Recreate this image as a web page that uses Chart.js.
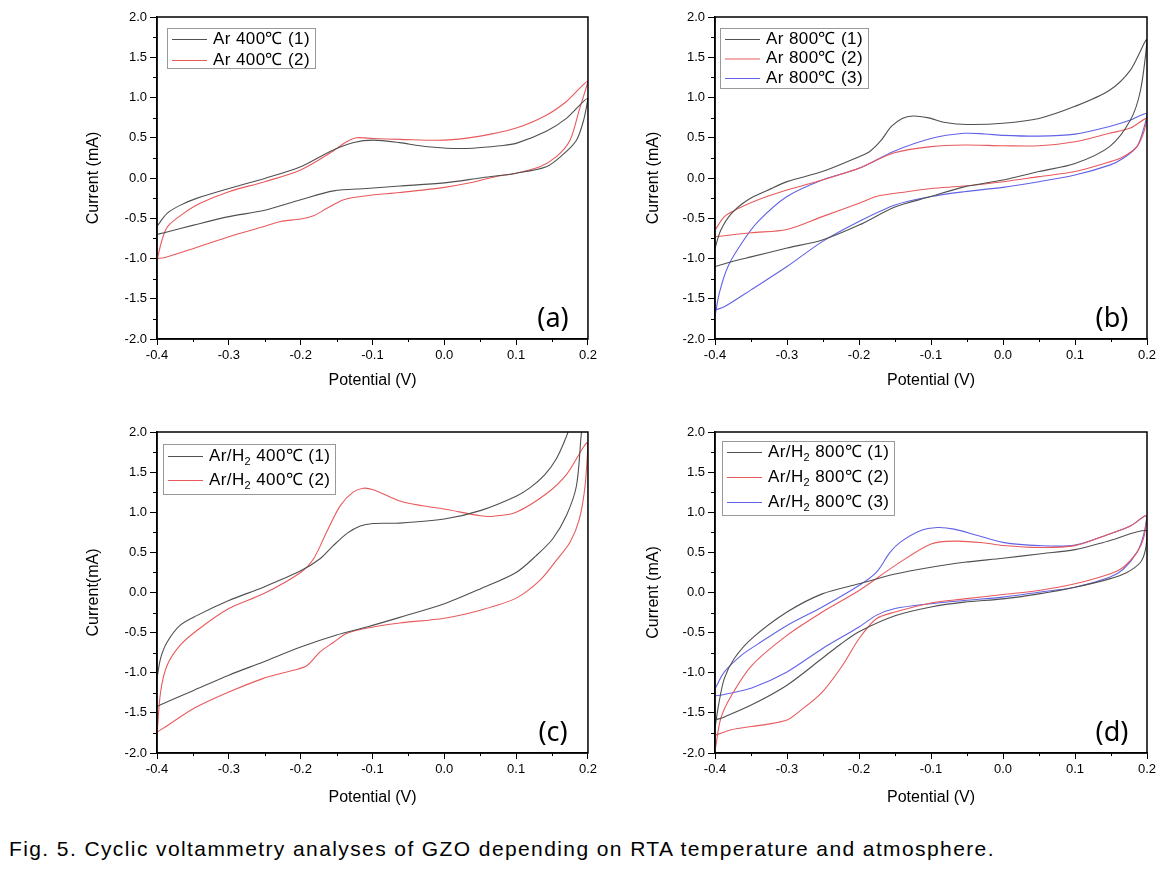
<!DOCTYPE html>
<html>
<head>
<meta charset="utf-8">
<script src="https://cdn.jsdelivr.net/npm/chart.js@4.4.1/dist/chart.umd.min.js"></script>
<style>
  body { margin: 0; background: #fff; width: 1174px; height: 874px; position: relative; overflow: hidden; font-family: "Liberation Sans", Arial, sans-serif; }
  .panel { position: absolute; }
  #caption { position: absolute; left: 9px; top: 837px; font-size: 21px; letter-spacing: 1.4px; color: #000; white-space: nowrap; }
</style>
</head>
<body>
<div class="panel" style="left:80px;top:0px"><canvas id="chartA" width="520" height="394"></canvas></div>
<div class="panel" style="left:640px;top:0px"><canvas id="chartB" width="520" height="394"></canvas></div>
<div class="panel" style="left:80px;top:415px"><canvas id="chartC" width="520" height="396"></canvas></div>
<div class="panel" style="left:640px;top:415px"><canvas id="chartD" width="520" height="396"></canvas></div>
<div id="caption">Fig. 5. Cyclic voltammetry analyses of GZO depending on RTA temperature and atmosphere.</div>
<script>
// tick values
const xMinor = [-0.35, -0.25, -0.15, -0.05, 0.05, 0.15];
const yMinor = [-1.75, -1.25, -0.75, -0.25, 0.25, 0.75, 1.25, 1.75];

// (a) Ar 400C
const labelsA = ["Ar 400℃ (1)", "Ar 400℃ (2)"];
const potA1 = [-0.4, -0.386, -0.368, -0.344, -0.3, -0.25, -0.2, -0.159, -0.126, -0.099, -0.062, -0.034, 0.003, 0.04, 0.077, 0.1, 0.142, 0.17, 0.2, 0.194, 0.184, 0.165, 0.142, 0.1, 0.05, 0.0, -0.062, -0.108, -0.154, -0.2, -0.25, -0.3, -0.349, -0.386, -0.4];
const curA1 = [-0.6, -0.44, -0.34, -0.25, -0.13, -0.005, 0.14, 0.33, 0.44, 0.47, 0.44, 0.40, 0.37, 0.37, 0.40, 0.43, 0.58, 0.74, 0.99, 0.72, 0.47, 0.29, 0.14, 0.06, 0.0, -0.06, -0.10, -0.13, -0.16, -0.27, -0.40, -0.48, -0.585, -0.67, -0.70];
const potA2 = [-0.4, -0.393, -0.385, -0.363, -0.34, -0.3, -0.25, -0.2, -0.159, -0.136, -0.122, -0.099, -0.062, 0.0, 0.05, 0.1, 0.142, 0.17, 0.2, 0.188, 0.175, 0.156, 0.133, 0.1, 0.068, 0.036, 0.0, -0.062, -0.108, -0.14, -0.164, -0.182, -0.2, -0.228, -0.25, -0.3, -0.349, -0.39, -0.4];
const curA2 = [-1.02, -0.77, -0.6, -0.44, -0.315, -0.17, -0.046, 0.1, 0.31, 0.45, 0.5, 0.49, 0.48, 0.47, 0.52, 0.62, 0.78, 0.95, 1.2, 0.85, 0.47, 0.265, 0.14, 0.06, 0.01, -0.06, -0.116, -0.18, -0.22, -0.27, -0.38, -0.47, -0.51, -0.54, -0.6, -0.73, -0.875, -0.99, -1.0];

// (b) Ar 800C
const labelsB = ["Ar 800℃ (1)", "Ar 800℃ (2)", "Ar 800℃ (3)"];
const potB1 = [-0.4, -0.392, -0.377, -0.354, -0.326, -0.3, -0.251, -0.2, -0.185, -0.17, -0.155, -0.14, -0.125, -0.105, -0.08, -0.05, 0.0, 0.05, 0.1, 0.148, 0.177, 0.2, 0.191, 0.177, 0.148, 0.1, 0.05, 0.0, -0.054, -0.1, -0.15, -0.2, -0.251, -0.3, -0.35, -0.377, -0.4];
const curB1 = [-0.875, -0.65, -0.44, -0.27, -0.15, -0.045, 0.08, 0.265, 0.33, 0.46, 0.64, 0.74, 0.77, 0.75, 0.69, 0.665, 0.68, 0.74, 0.89, 1.09, 1.34, 1.72, 1.09, 0.72, 0.39, 0.18, 0.08, -0.025, -0.11, -0.23, -0.36, -0.585, -0.77, -0.87, -0.98, -1.04, -1.10];
const potB2 = [-0.4, -0.387, -0.368, -0.34, -0.3, -0.251, -0.2, -0.152, -0.1, -0.054, 0.0, 0.05, 0.1, 0.148, 0.177, 0.2, 0.195, 0.186, 0.167, 0.148, 0.1, 0.05, 0.0, -0.054, -0.1, -0.133, -0.176, -0.2, -0.251, -0.3, -0.35, -0.4];
const curB2 = [-0.65, -0.48, -0.38, -0.27, -0.15, -0.025, 0.12, 0.31, 0.39, 0.41, 0.40, 0.40, 0.45, 0.555, 0.62, 0.74, 0.555, 0.39, 0.265, 0.2, 0.08, 0.017, -0.046, -0.1, -0.13, -0.17, -0.23, -0.315, -0.48, -0.64, -0.68, -0.73];
const potB3 = [-0.4, -0.394, -0.382, -0.363, -0.34, -0.3, -0.251, -0.2, -0.152, -0.1, -0.054, -0.025, 0.0, 0.05, 0.1, 0.148, 0.177, 0.2, 0.195, 0.186, 0.167, 0.148, 0.1, 0.05, 0.0, -0.054, -0.1, -0.15, -0.2, -0.251, -0.3, -0.35, -0.387, -0.4];
const curB3 = [-1.72, -1.43, -1.10, -0.81, -0.54, -0.23, -0.025, 0.12, 0.33, 0.49, 0.555, 0.547, 0.53, 0.52, 0.545, 0.64, 0.72, 0.80, 0.6, 0.39, 0.245, 0.16, 0.037, -0.046, -0.116, -0.17, -0.23, -0.335, -0.54, -0.79, -1.10, -1.39, -1.60, -1.64];

// (c) Ar/H2 400C
const labelsC = ["Ar/H₂ 400℃ (1)", "Ar/H₂ 400℃ (2)"];
const potC1 = [-0.4, -0.395, -0.386, -0.368, -0.344, -0.3, -0.252, -0.2, -0.173, -0.155, -0.135, -0.117, -0.099, -0.062, 0.0, 0.05, 0.1, 0.12, 0.14, 0.155, 0.168, 0.18, 0.2, 0.196, 0.191, 0.184, 0.17, 0.151, 0.128, 0.1, 0.05, 0.0, -0.062, -0.108, -0.15, -0.2, -0.252, -0.3, -0.349, -0.395, -0.4];
const curC1 = [-1.07, -0.82, -0.62, -0.41, -0.285, -0.1, 0.066, 0.27, 0.42, 0.58, 0.74, 0.83, 0.86, 0.865, 0.915, 1.02, 1.2, 1.31, 1.47, 1.65, 1.9, 2.2, 2.8, 2.3, 2.0, 1.33, 0.96, 0.67, 0.46, 0.25, 0.045, -0.14, -0.31, -0.43, -0.53, -0.68, -0.865, -1.03, -1.22, -1.40, -1.42];
const potC2 = [-0.4, -0.395, -0.386, -0.368, -0.344, -0.3, -0.252, -0.2, -0.182, -0.164, -0.145, -0.127, -0.113, -0.099, -0.062, -0.03, 0.0, 0.05, 0.068, 0.1, 0.142, 0.17, 0.2, 0.196, 0.188, 0.175, 0.156, 0.133, 0.1, 0.05, 0.0, -0.062, -0.099, -0.136, -0.154, -0.173, -0.191, -0.21, -0.228, -0.252, -0.3, -0.349, -0.391, -0.4];
const curC2 = [-1.78, -1.24, -0.91, -0.66, -0.47, -0.2, -0.017, 0.25, 0.42, 0.75, 1.08, 1.25, 1.30, 1.28, 1.14, 1.08, 1.04, 0.957, 0.95, 1.0, 1.23, 1.47, 1.87, 1.33, 0.915, 0.625, 0.40, 0.15, -0.07, -0.22, -0.32, -0.38, -0.43, -0.51, -0.62, -0.74, -0.91, -0.97, -1.01, -1.07, -1.24, -1.445, -1.69, -1.74];

// (d) Ar/H2 800C
const labelsD = ["Ar/H₂ 800℃ (1)", "Ar/H₂ 800℃ (2)", "Ar/H₂ 800℃ (3)"];
const potD1 = [-0.4, -0.395, -0.387, -0.373, -0.349, -0.3, -0.251, -0.2, -0.15, -0.1, -0.054, 0.0, 0.05, 0.1, 0.148, 0.2, 0.198, 0.191, 0.172, 0.148, 0.1, 0.05, 0.0, -0.054, -0.1, -0.15, -0.2, -0.228, -0.251, -0.3, -0.349, -0.387, -0.4];
const curD1 = [-1.69, -1.40, -1.07, -0.82, -0.575, -0.244, -0.017, 0.108, 0.23, 0.315, 0.377, 0.427, 0.48, 0.534, 0.646, 0.77, 0.54, 0.377, 0.25, 0.17, 0.066, -0.017, -0.08, -0.12, -0.18, -0.29, -0.49, -0.66, -0.82, -1.155, -1.40, -1.55, -1.59];
const potD2 = [-0.4, -0.392, -0.377, -0.349, -0.3, -0.251, -0.2, -0.15, -0.1, -0.065, -0.025, 0.0, 0.05, 0.1, 0.148, 0.177, 0.2, 0.195, 0.186, 0.167, 0.148, 0.1, 0.05, 0.0, -0.054, -0.1, -0.15, -0.176, -0.2, -0.223, -0.251, -0.284, -0.3, -0.326, -0.349, -0.377, -0.4];
const curD2 = [-1.98, -1.57, -1.28, -0.91, -0.534, -0.244, 0.025, 0.335, 0.605, 0.64, 0.617, 0.585, 0.56, 0.584, 0.73, 0.83, 0.957, 0.667, 0.5, 0.315, 0.23, 0.108, 0.025, -0.025, -0.08, -0.13, -0.244, -0.327, -0.576, -0.91, -1.24, -1.49, -1.59, -1.64, -1.67, -1.71, -1.78];
const potD3 = [-0.4, -0.387, -0.363, -0.34, -0.3, -0.251, -0.2, -0.176, -0.157, -0.143, -0.115, -0.091, -0.068, -0.035, 0.0, 0.05, 0.1, 0.148, 0.177, 0.2, 0.195, 0.186, 0.167, 0.148, 0.1, 0.05, 0.0, -0.054, -0.1, -0.15, -0.176, -0.2, -0.251, -0.3, -0.349, -0.387, -0.4];
const curD3 = [-1.20, -0.99, -0.78, -0.64, -0.41, -0.18, 0.087, 0.25, 0.50, 0.625, 0.77, 0.81, 0.79, 0.71, 0.625, 0.584, 0.59, 0.73, 0.83, 0.957, 0.71, 0.5, 0.29, 0.19, 0.066, 0.004, -0.058, -0.1, -0.14, -0.2, -0.285, -0.43, -0.70, -0.99, -1.19, -1.27, -1.29];

const lineColors = ["#505050", "#e85a5c", "#6262e6"];

function toPoints(pot, cur) {
  return pot.map((p, i) => ({ x: p, y: cur[i] }));
}

function fmt(v) {
  return (Math.abs(v) < 1e-9 ? 0 : v).toFixed(1);
}

// frame, minor ticks, legend box and panel letter
const panelPlugin = {
  id: "panel",
  afterDraw(chart, args, o) {
    const ctx = chart.ctx;
    const a = chart.chartArea;
    const x = chart.scales.x;
    const y = chart.scales.y;
    ctx.save();
    ctx.strokeStyle = "#000";
    ctx.lineWidth = 1.5;
    ctx.strokeRect(a.left, a.top, a.right - a.left, a.bottom - a.top);

    ctx.lineWidth = 1;
    ctx.beginPath();
    xMinor.forEach((v) => {
      const px = Math.round(x.getPixelForValue(v)) + 0.5;
      ctx.moveTo(px, a.bottom);
      ctx.lineTo(px, a.bottom + 3);
    });
    yMinor.forEach((v) => {
      const py = Math.round(y.getPixelForValue(v)) + 0.5;
      ctx.moveTo(a.left, py);
      ctx.lineTo(a.left - 4, py);
    });
    ctx.stroke();

    // legend
    const sets = chart.data.datasets;
    const bx = a.left + o.dx;
    const by = a.top + o.dy;
    const font = '17px "Liberation Sans", Arial, sans-serif';
    ctx.textBaseline = "middle";
    ctx.textAlign = "left";
    ctx.letterSpacing = "0.4px";
    let maxX = 0;
    sets.forEach((ds, i) => {
      const ry = by + o.first + i * o.row;
      ctx.strokeStyle = ds.borderColor;
      ctx.beginPath();
      ctx.moveTo(bx + 5, ry + 0.5);
      ctx.lineTo(bx + 40, ry + 0.5);
      ctx.stroke();
      ctx.fillStyle = "#000";
      let tx = bx + 46;
      const parts = ds.label.split("₂");
      ctx.font = font;
      ctx.fillText(parts[0], tx, ry);
      tx += ctx.measureText(parts[0]).width;
      if (parts.length > 1) {
        ctx.font = '11px "Liberation Sans", Arial, sans-serif';
        ctx.fillText("2", tx, ry + 6);
        tx += ctx.measureText("2").width;
        ctx.font = font;
        ctx.fillText(parts[1], tx, ry);
        tx += ctx.measureText(parts[1]).width;
      }
      maxX = Math.max(maxX, tx);
    });
    ctx.letterSpacing = "0px";
    ctx.strokeStyle = "#999";
    ctx.strokeRect(bx + 0.5, by + 0.5, Math.round(maxX - bx + 5), o.row * sets.length + o.extra);

    ctx.fillStyle = "#000";
    ctx.font = '27px "Noto Sans", sans-serif';
    ctx.textAlign = "center";
    ctx.textBaseline = "middle";
    ctx.fillText(o.letter, a.right - 35, a.bottom - 20);
    ctx.restore();
  },
};

function makeChart(id, series, cfg) {
  const axisFont = { family: '"Liberation Sans", Arial, sans-serif', size: 13 };
  const titleFont = { family: '"Liberation Sans", Arial, sans-serif', size: 16 };
  new Chart(document.getElementById(id), {
    type: "scatter",
    data: {
      datasets: series.map((s, i) => ({
        label: s.label,
        data: toPoints(s.pot, s.cur),
        showLine: true,
        borderColor: lineColors[i],
        borderWidth: 1.1,
        pointRadius: 0,
        tension: 0.3,
        fill: false,
      })),
    },
    options: {
      responsive: false,
      animation: false,
      layout: { padding: { top: 17, right: cfg.padRight, left: 0, bottom: 0 } },
      plugins: {
        legend: { display: false },
        tooltip: { enabled: false },
        panel: cfg.panel,
      },
      scales: {
        x: {
          type: "linear",
          min: -0.4,
          max: 0.2,
          afterFit: (scale) => { scale.height = cfg.xHeight; },
          ticks: { stepSize: 0.1, color: "#000", font: axisFont, padding: 3, callback: fmt },
          grid: { drawOnChartArea: false, drawTicks: true, tickLength: 6, tickColor: "#000", tickWidth: 1 },
          border: { display: true, color: "#000", width: 1.5 },
          title: { display: true, text: "Potential (V)", color: "#000", font: titleFont },
        },
        y: {
          type: "linear",
          min: -2,
          max: 2,
          afterFit: (scale) => { scale.width = cfg.yWidth; },
          ticks: { stepSize: 0.5, color: "#000", font: axisFont, padding: 3, callback: fmt },
          grid: { drawOnChartArea: false, drawTicks: true, tickLength: 7, tickColor: "#000", tickWidth: 1 },
          border: { display: true, color: "#000", width: 1.5 },
          title: { display: true, text: cfg.yTitle, color: "#000", font: titleFont },
        },
      },
    },
    plugins: [panelPlugin],
  });
}

makeChart("chartA", [
  { label: labelsA[0], pot: potA1, cur: curA1 },
  { label: labelsA[1], pot: potA2, cur: curA2 },
], { padRight: 12, xHeight: 55, yWidth: 77, yTitle: "Current (mA)",
     panel: { letter: "(a)", dx: 10, dy: 11, row: 21, first: 11, extra: -2 } });

makeChart("chartB", [
  { label: labelsB[0], pot: potB1, cur: curB1 },
  { label: labelsB[1], pot: potB2, cur: curB2 },
  { label: labelsB[2], pot: potB3, cur: curB3 },
], { padRight: 13, xHeight: 55, yWidth: 75, yTitle: "Current (mA)",
     panel: { letter: "(b)", dx: 5, dy: 11, row: 19.5, first: 11, extra: 1.5 } });

makeChart("chartC", [
  { label: labelsC[0], pot: potC1, cur: curC1 },
  { label: labelsC[1], pot: potC2, cur: curC2 },
], { padRight: 12, xHeight: 58, yWidth: 77, yTitle: "Current(mA)",
     panel: { letter: "(c)", dx: 6, dy: 12, row: 24, first: 12, extra: 2 } });

makeChart("chartD", [
  { label: labelsD[0], pot: potD1, cur: curD1 },
  { label: labelsD[1], pot: potD2, cur: curD2 },
  { label: labelsD[2], pot: potD3, cur: curD3 },
], { padRight: 13, xHeight: 58, yWidth: 75, yTitle: "Current (mA)",
     panel: { letter: "(d)", dx: 7, dy: 9, row: 25, first: 11, extra: -1 } });
</script>
</body>
</html>
